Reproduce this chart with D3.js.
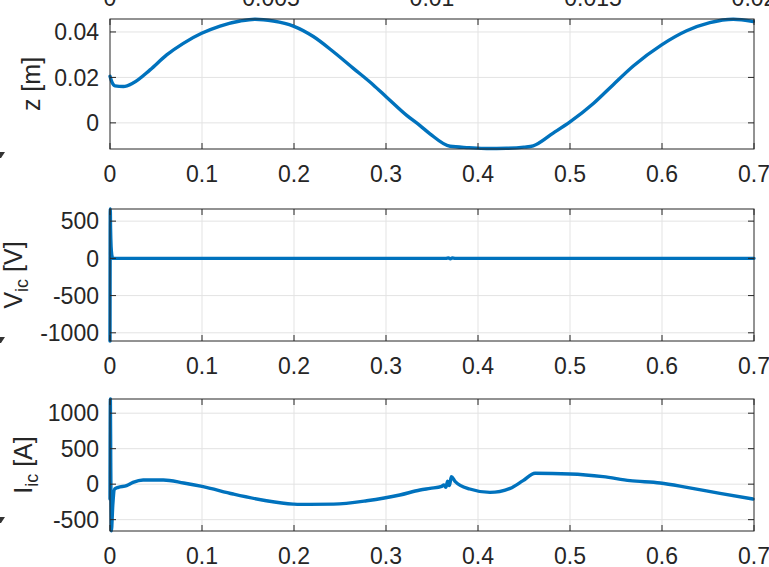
<!DOCTYPE html>
<html><head><meta charset="utf-8">
<script src="https://cdn.jsdelivr.net/npm/d3@7"></script>
<style>
body{margin:0;background:#fff;}
svg{display:block;}
text{font-family:"Liberation Sans",Arial,Helvetica,sans-serif;fill:#262626;}
</style></head>
<body>
<svg id="c" width="769" height="567"></svg>
<script>
// ---- data ----
const xTicks = [0, 0.1, 0.2, 0.3, 0.4, 0.5, 0.6, 0.7];
const topStripTicks = [0, 0.005, 0.01, 0.015, 0.02];

const zT = [0, 0.002, 0.0054, 0.0145, 0.025, 0.0435, 0.0616, 0.0797, 0.0996, 0.1196, 0.1413, 0.1576, 0.1775, 0.1993, 0.221, 0.2428, 0.2645, 0.2862, 0.3007, 0.3225, 0.337, 0.3478, 0.3696, 0.39, 0.4094, 0.431, 0.45, 0.46, 0.4817, 0.5, 0.5254, 0.547, 0.5688, 0.5996, 0.6268, 0.652, 0.6775, 0.6993];
const zV = [0.0205, 0.018, 0.0163, 0.016, 0.0175, 0.0233, 0.0299, 0.035, 0.0394, 0.0426, 0.0448, 0.0456, 0.0448, 0.0426, 0.038, 0.0313, 0.024, 0.0167, 0.0113, 0.0033, -0.0012, -0.0048, -0.0103, -0.0109, -0.0113, -0.0112, -0.0107, -0.0101, -0.0045, 0.0004, 0.0085, 0.0168, 0.025, 0.0343, 0.0405, 0.0441, 0.0456, 0.0446];
const zTicks = [0, 0.02, 0.04];

const vT = [0, 0.0003, 0.0006, 0.0012, 0.002, 0.003, 0.1, 0.2, 0.3, 0.365, 0.368, 0.37, 0.372, 0.375, 0.4, 0.5, 0.6, 0.7];
const vV = [-1110, 663, 400, 150, 40, 0, 0, 0, 0, 0, 6, -6, 5, 0, 0, 0, 0, 0];
const vTicks = [-1000, -500, 0, 500];

const iT = [0, 0.0004, 0.0008, 0.0015, 0.003, 0.005, 0.009, 0.018, 0.025, 0.036, 0.058, 0.08, 0.1, 0.134, 0.17, 0.199, 0.206, 0.243, 0.279, 0.315, 0.337, 0.348, 0.3605, 0.363, 0.365, 0.367, 0.369, 0.371, 0.375, 0.391, 0.413, 0.435, 0.449, 0.462, 0.5, 0.536, 0.5652, 0.598, 0.627, 0.663, 0.699];
const iV = [-210, 1200, 300, -658, -300, -68, -45, -21, 25, 59, 59, 17, -31, -139, -234, -281, -285, -281, -234, -153, -82, -59, -31, -10, -45, 40, -20, 106, 40, -68, -116, -59, 50, 153, 144, 106, 50, 17, -45, -130, -210];
const iTicks = [-500, 0, 500, 1000];

// ---- layout ----
const svg = d3.select("#c");
const X0 = 110, X1 = 754;
const x = d3.scaleLinear().domain([0, 0.7]).range([X0, X1]);

const panels = [
  {T: zT, V: zV, ticks: zTicks, dom: [-0.0115, 0.0457], top: 19, bot: 149, label: "z [m]", sub: null, labX: 40},
  {T: vT, V: vV, ticks: vTicks, dom: [-1110, 663], top: 209, bot: 341, label: "V", sub: "ic", rest: " [V]", labX: 22},
  {T: iT, V: iV, ticks: iTicks, dom: [-660, 1200], top: 399, bot: 531, label: "I", sub: "ic", rest: " [A]", labX: 32}
];

const fs = 23;

panels.forEach(p => {
  const y = d3.scaleLinear().domain(p.dom).range([p.bot, p.top]);
  const g = svg.append("g");
  g.selectAll(".gx").data(xTicks.slice(1, -1)).join("line")
    .attr("x1", d => x(d)).attr("x2", d => x(d)).attr("y1", p.top).attr("y2", p.bot)
    .attr("stroke", "#e3e3e3").attr("stroke-width", 1);
  g.selectAll(".gy").data(p.ticks).join("line")
    .attr("x1", X0).attr("x2", X1).attr("y1", d => y(d)).attr("y2", d => y(d))
    .attr("stroke", "#e3e3e3").attr("stroke-width", 1);
  const clipId = "clip" + p.top;
  svg.append("clipPath").attr("id", clipId).append("rect")
    .attr("x", X0 - 2).attr("y", p.top - 2).attr("width", X1 - X0 + 4).attr("height", p.bot - p.top + 4);
  g.append("path")
    .datum(p.T.map((t, i) => [t, p.V[i]]))
    .attr("clip-path", `url(#${clipId})`)
    .attr("fill", "none").attr("stroke", "#0072BD").attr("stroke-width", 3.4)
    .attr("stroke-linejoin", "round").attr("stroke-linecap", "round")
    .attr("d", d3.line().x(d => x(d[0])).y(d => y(d[1])).curve(d3.curveMonotoneX));
  g.append("rect").attr("x", X0).attr("y", p.top).attr("width", X1 - X0).attr("height", p.bot - p.top)
    .attr("fill", "none").attr("stroke", "#262626").attr("stroke-width", 1);
  const tl = 6;
  g.selectAll(".tb").data(xTicks).join("line")
    .attr("x1", d => x(d)).attr("x2", d => x(d)).attr("y1", p.bot).attr("y2", p.bot - tl).attr("stroke", "#262626");
  g.selectAll(".tt").data(xTicks).join("line")
    .attr("x1", d => x(d)).attr("x2", d => x(d)).attr("y1", p.top).attr("y2", p.top + tl).attr("stroke", "#262626");
  g.selectAll(".tlft").data(p.ticks).join("line")
    .attr("x1", X0).attr("x2", X0 + tl).attr("y1", d => y(d)).attr("y2", d => y(d)).attr("stroke", "#262626");
  g.selectAll(".trt").data(p.ticks).join("line")
    .attr("x1", X1).attr("x2", X1 - tl).attr("y1", d => y(d)).attr("y2", d => y(d)).attr("stroke", "#262626");
  g.selectAll(".xl").data(xTicks).join("text")
    .attr("x", d => x(d)).attr("y", p.bot + 33).attr("text-anchor", "middle")
    .attr("font-size", fs).text(d => String(d));
  g.selectAll(".yl").data(p.ticks).join("text")
    .attr("x", X0 - 11).attr("y", d => y(d)).attr("dy", "0.36em").attr("text-anchor", "end")
    .attr("font-size", fs).text(d => String(d));
  const cy = (p.top + p.bot) / 2;
  const lt = g.append("text").attr("transform", `translate(${p.labX},${cy}) rotate(-90)`)
    .attr("text-anchor", "middle").attr("font-size", 25);
  if (p.sub) {
    lt.append("tspan").text(p.label);
    lt.append("tspan").attr("font-size", 18).attr("dy", 6).text(p.sub);
    lt.append("tspan").attr("dy", -6).text(p.rest);
  } else {
    lt.text(p.label);
  }
});

// cut-off tick labels of the axes above (cropped in the original too)
const xs = d3.scaleLinear().domain([0, 0.02]).range([X0, X1]);
svg.selectAll(".stl").data(topStripTicks).join("text")
  .attr("x", d => xs(d)).attr("y", 6).attr("text-anchor", "middle")
  .attr("font-size", fs).text(d => String(d));

// cut-off glyph fragments at the left edge
svg.selectAll(".frag").data([155, 340, 520]).join("path")
  .attr("d", d => `M0,${d - 3} L5,${d - 3} L1,${d + 3} L0,${d + 3} Z`)
  .attr("fill", "#333");
</script>
</body></html>
